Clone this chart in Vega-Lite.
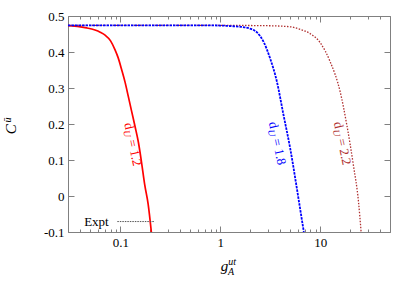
{
  "$schema": "https://vega.github.io/schema/vega-lite/v6.json",
  "width": 322,
  "height": 216,
  "autosize": {"type": "none"},
  "padding": {"left": 68, "top": 16, "right": 25, "bottom": 59},
  "background": "white",
  "config": {
    "view": {"stroke": "#808080", "strokeWidth": 1},
    "text": {"font": "Liberation Serif"}
  },
  "datasets": {
    "curves": [
      {"g": 0.03, "C": 0.473, "s": "1.2"},
      {"g": 0.035, "C": 0.472, "s": "1.2"},
      {"g": 0.04, "C": 0.470, "s": "1.2"},
      {"g": 0.046, "C": 0.467, "s": "1.2"},
      {"g": 0.0559, "C": 0.461, "s": "1.2"},
      {"g": 0.063, "C": 0.455, "s": "1.2"},
      {"g": 0.0705, "C": 0.447, "s": "1.2"},
      {"g": 0.08, "C": 0.431, "s": "1.2"},
      {"g": 0.0887, "C": 0.406, "s": "1.2"},
      {"g": 0.095, "C": 0.385, "s": "1.2"},
      {"g": 0.1035, "C": 0.35, "s": "1.2"},
      {"g": 0.112, "C": 0.315, "s": "1.2"},
      {"g": 0.1205, "C": 0.276, "s": "1.2"},
      {"g": 0.13, "C": 0.235, "s": "1.2"},
      {"g": 0.1406, "C": 0.193, "s": "1.2"},
      {"g": 0.1517, "C": 0.15, "s": "1.2"},
      {"g": 0.163, "C": 0.095, "s": "1.2"},
      {"g": 0.176, "C": 0.03, "s": "1.2"},
      {"g": 0.19, "C": -0.022, "s": "1.2"},
      {"g": 0.2047, "C": -0.1, "s": "1.2"},
      {"g": 0.03, "C": 0.474, "s": "1.8"},
      {"g": 0.1, "C": 0.474, "s": "1.8"},
      {"g": 0.3, "C": 0.474, "s": "1.8"},
      {"g": 0.6, "C": 0.474, "s": "1.8"},
      {"g": 1.0, "C": 0.4735, "s": "1.8"},
      {"g": 1.256, "C": 0.472, "s": "1.8"},
      {"g": 1.6, "C": 0.470, "s": "1.8"},
      {"g": 1.99, "C": 0.465, "s": "1.8"},
      {"g": 2.32, "C": 0.455, "s": "1.8"},
      {"g": 2.71, "C": 0.429, "s": "1.8"},
      {"g": 3.16, "C": 0.382, "s": "1.8"},
      {"g": 3.69, "C": 0.318, "s": "1.8"},
      {"g": 4.30, "C": 0.225, "s": "1.8"},
      {"g": 5.01, "C": 0.133, "s": "1.8"},
      {"g": 5.85, "C": 0.021, "s": "1.8"},
      {"g": 6.4, "C": -0.047, "s": "1.8"},
      {"g": 6.87, "C": -0.1, "s": "1.8"},
      {"g": 0.03, "C": 0.474, "s": "2.2"},
      {"g": 0.3, "C": 0.474, "s": "2.2"},
      {"g": 1.0, "C": 0.474, "s": "2.2"},
      {"g": 3.0, "C": 0.473, "s": "2.2"},
      {"g": 5.01, "C": 0.470, "s": "2.2"},
      {"g": 6.31, "C": 0.463, "s": "2.2"},
      {"g": 7.94, "C": 0.451, "s": "2.2"},
      {"g": 10.0, "C": 0.426, "s": "2.2"},
      {"g": 12.6, "C": 0.373, "s": "2.2"},
      {"g": 15.85, "C": 0.290, "s": "2.2"},
      {"g": 18.5, "C": 0.197, "s": "2.2"},
      {"g": 21.5, "C": 0.086, "s": "2.2"},
      {"g": 24.2, "C": -0.016, "s": "2.2"},
      {"g": 25.7, "C": -0.1, "s": "2.2"}
    ],
    "labels": [
      {"g": 0.1197, "C": 0.203, "s": "1.2", "t": "= 1.2"},
      {"g": 3.346, "C": 0.2056, "s": "1.8", "t": "= 1.8"},
      {"g": 14.96, "C": 0.2056, "s": "2.2", "t": "= 2.2"}
    ],
    "key": [
      {"g": 0.0935, "g2": 0.221, "C": -0.071, "label": "Expt"}
    ],
    "xsub": [
      {"g": 1.315, "C": -0.182, "t": "ut"},
      {"g": 1.285, "C": -0.211, "t": "A"}
    ],
    "ysup": [
      {"g": 0.0076, "C": 0.2111, "t": "ū"}
    ]
  },
  "layer": [
    {
      "data": {"name": "curves"},
      "transform": [{"filter": "datum.s == '1.2'"}],
      "mark": {"type": "line", "interpolate": "monotone", "color": "#ff0000", "strokeWidth": 1.7, "clip": true},
      "encoding": {
        "x": {
          "field": "g", "type": "quantitative",
          "scale": {"type": "log", "domain": [0.03, 50], "nice": false},
          "axis": {
            "orient": "bottom",
            "values": [0.03,0.04,0.05,0.06,0.07,0.08,0.09,0.1,0.2,0.3,0.4,0.5,0.6,0.7,0.8,0.9,1,2,3,4,5,6,7,8,9,10,20,30,40,50],
            "labelExpr": "datum.value == 0.1 ? '0.1' : datum.value == 1 ? '1' : datum.value == 10 ? '10' : ''",
            "tickSize": {"condition": {"test": "datum.value == 0.1 || datum.value == 1 || datum.value == 10", "value": -6}, "value": -3},
            "tickColor": "#808080",
            "domain": false,
            "grid": false,
            "labelFont": "Liberation Serif",
            "labelFontSize": 13,
            "labelColor": "#000000",
            "labelPadding": 10,
            "labelOverlap": false,
            "labelFlush": false,
            "title": "g",
            "titleFont": "Liberation Serif",
            "titleFontSize": 15,
            "titleFontStyle": "italic",
            "titleFontWeight": "normal",
            "titleColor": "#000000",
            "titleX": 156,
            "titleY": 38,
            "titleBaseline": "alphabetic",
            "titleAlign": "center"
          }
        },
        "y": {
          "field": "C", "type": "quantitative",
          "scale": {"domain": [-0.1, 0.5], "nice": false, "zero": false},
          "axis": {
            "orient": "left",
            "values": [-0.1, 0, 0.1, 0.2, 0.3, 0.4, 0.5],
            "labelExpr": "datum.value < -0.05 ? '-0.1' : datum.value == 0 ? '0' : format(datum.value, '.1f')",
            "tickSize": -6,
            "tickColor": "#808080",
            "domain": false,
            "grid": false,
            "labelFont": "Liberation Serif",
            "labelFontSize": 13,
            "labelColor": "#000000",
            "labelPadding": 10,
            "labelOverlap": false,
            "labelFlush": false,
            "title": "C",
            "titleFont": "Liberation Serif",
            "titleFontSize": 15,
            "titleFontStyle": "italic",
            "titleFontWeight": "normal",
            "titleColor": "#000000",
            "titleAngle": -90,
            "titleX": -57.5,
            "titleY": 112.8,
            "titleBaseline": "middle",
            "titleAlign": "center"
          }
        }
      }
    },
    {
      "data": {"name": "curves"},
      "transform": [{"filter": "datum.s == '2.2'"}],
      "mark": {"type": "line", "interpolate": "monotone", "color": "#b03030", "strokeWidth": 1.3, "strokeDash": [1.5, 1.5], "clip": true},
      "encoding": {
        "x": {"field": "g", "type": "quantitative", "scale": {"type": "log", "domain": [0.03, 50], "nice": false}, "axis": null},
        "y": {"field": "C", "type": "quantitative", "scale": {"domain": [-0.1, 0.5], "nice": false, "zero": false}, "axis": null}
      }
    },
    {
      "data": {"name": "curves"},
      "transform": [{"filter": "datum.s == '1.8'"}],
      "mark": {"type": "line", "interpolate": "monotone", "color": "#0000ff", "strokeWidth": 1.8, "strokeDash": [2.5, 1], "clip": true},
      "encoding": {
        "x": {
          "field": "g", "type": "quantitative",
          "scale": {"type": "log", "domain": [0.03, 50], "nice": false},
          "axis": {
            "orient": "top",
            "values": [0.03,0.04,0.05,0.06,0.07,0.08,0.09,0.1,0.2,0.3,0.4,0.5,0.6,0.7,0.8,0.9,1,2,3,4,5,6,7,8,9,10,20,30,40,50],
            "labels": false,
            "tickSize": {"condition": {"test": "datum.value == 0.1 || datum.value == 1 || datum.value == 10", "value": -6}, "value": -3},
            "tickColor": "#808080",
            "domain": false,
            "grid": false,
            "title": null
          }
        },
        "y": {
          "field": "C", "type": "quantitative",
          "scale": {"domain": [-0.1, 0.5], "nice": false, "zero": false},
          "axis": {
            "orient": "right",
            "values": [-0.1, 0, 0.1, 0.2, 0.3, 0.4, 0.5],
            "labels": false,
            "tickSize": -6,
            "tickColor": "#808080",
            "domain": false,
            "grid": false,
            "title": null
          }
        }
      }
    },
    {
      "data": {"name": "key"},
      "mark": {"type": "rule", "color": "#555555", "strokeWidth": 1, "strokeDash": [1.5, 1]},
      "encoding": {
        "x": {"field": "g", "type": "quantitative", "scale": {"type": "log", "domain": [0.03, 50], "nice": false}, "axis": null},
        "x2": {"field": "g2"},
        "y": {"field": "C", "type": "quantitative", "scale": {"domain": [-0.1, 0.5], "nice": false, "zero": false}, "axis": null}
      }
    },
    {
      "data": {"name": "key"},
      "mark": {"type": "text", "align": "right", "baseline": "middle", "dx": -8.6, "fontSize": 13, "font": "Liberation Serif", "color": "#000000"},
      "encoding": {
        "x": {"field": "g", "type": "quantitative", "scale": {"type": "log", "domain": [0.03, 50], "nice": false}, "axis": null},
        "y": {"field": "C", "type": "quantitative", "scale": {"domain": [-0.1, 0.5], "nice": false, "zero": false}, "axis": null},
        "text": {"field": "label"}
      }
    },
    {
      "data": {"name": "labels"},
      "mark": {"type": "text", "text": "d", "align": "left", "baseline": "middle", "angle": 78, "fontSize": 13, "font": "Liberation Serif"},
      "encoding": {
        "x": {"field": "g", "type": "quantitative", "scale": {"type": "log", "domain": [0.03, 50], "nice": false}, "axis": null},
        "y": {"field": "C", "type": "quantitative", "scale": {"domain": [-0.1, 0.5], "nice": false, "zero": false}, "axis": null},
        "color": {"field": "s", "type": "nominal", "scale": {"domain": ["1.2", "1.8", "2.2"], "range": ["#ff0000", "#0000ff", "#b03030"]}, "legend": null}
      }
    },
    {
      "data": {"name": "labels"},
      "mark": {"type": "text", "text": "U", "align": "left", "baseline": "middle", "angle": 78, "dx": 7, "dy": 3.5, "fontSize": 9.5, "fontStyle": "italic", "font": "Liberation Serif"},
      "encoding": {
        "x": {"field": "g", "type": "quantitative", "scale": {"type": "log", "domain": [0.03, 50], "nice": false}, "axis": null},
        "y": {"field": "C", "type": "quantitative", "scale": {"domain": [-0.1, 0.5], "nice": false, "zero": false}, "axis": null},
        "color": {"field": "s", "type": "nominal", "scale": {"domain": ["1.2", "1.8", "2.2"], "range": ["#ff0000", "#0000ff", "#b03030"]}, "legend": null}
      }
    },
    {
      "data": {"name": "labels"},
      "mark": {"type": "text", "align": "left", "baseline": "middle", "angle": 78, "dx": 17, "fontSize": 13, "font": "Liberation Serif"},
      "encoding": {
        "x": {"field": "g", "type": "quantitative", "scale": {"type": "log", "domain": [0.03, 50], "nice": false}, "axis": null},
        "y": {"field": "C", "type": "quantitative", "scale": {"domain": [-0.1, 0.5], "nice": false, "zero": false}, "axis": null},
        "color": {"field": "s", "type": "nominal", "scale": {"domain": ["1.2", "1.8", "2.2"], "range": ["#ff0000", "#0000ff", "#b03030"]}, "legend": null},
        "text": {"field": "t"}
      }
    },
    {
      "data": {"name": "xsub"},
      "mark": {"type": "text", "align": "center", "baseline": "middle", "fontSize": 10, "fontStyle": "italic", "font": "Liberation Serif", "color": "#000000"},
      "encoding": {
        "x": {"field": "g", "type": "quantitative", "scale": {"type": "log", "domain": [0.03, 50], "nice": false}, "axis": null},
        "y": {"field": "C", "type": "quantitative", "scale": {"domain": [-0.1, 0.5], "nice": false, "zero": false}, "axis": null},
        "text": {"field": "t"}
      }
    },
    {
      "data": {"name": "ysup"},
      "mark": {"type": "text", "align": "center", "baseline": "middle", "angle": 270, "fontSize": 10, "fontStyle": "italic", "font": "Liberation Serif", "color": "#000000"},
      "encoding": {
        "x": {"field": "g", "type": "quantitative", "scale": {"type": "log", "domain": [0.03, 50], "nice": false}, "axis": null},
        "y": {"field": "C", "type": "quantitative", "scale": {"domain": [-0.1, 0.5], "nice": false, "zero": false}, "axis": null},
        "text": {"field": "t"}
      }
    }
  ],
  "resolve": {"axis": {"x": "independent", "y": "independent"}}
}
